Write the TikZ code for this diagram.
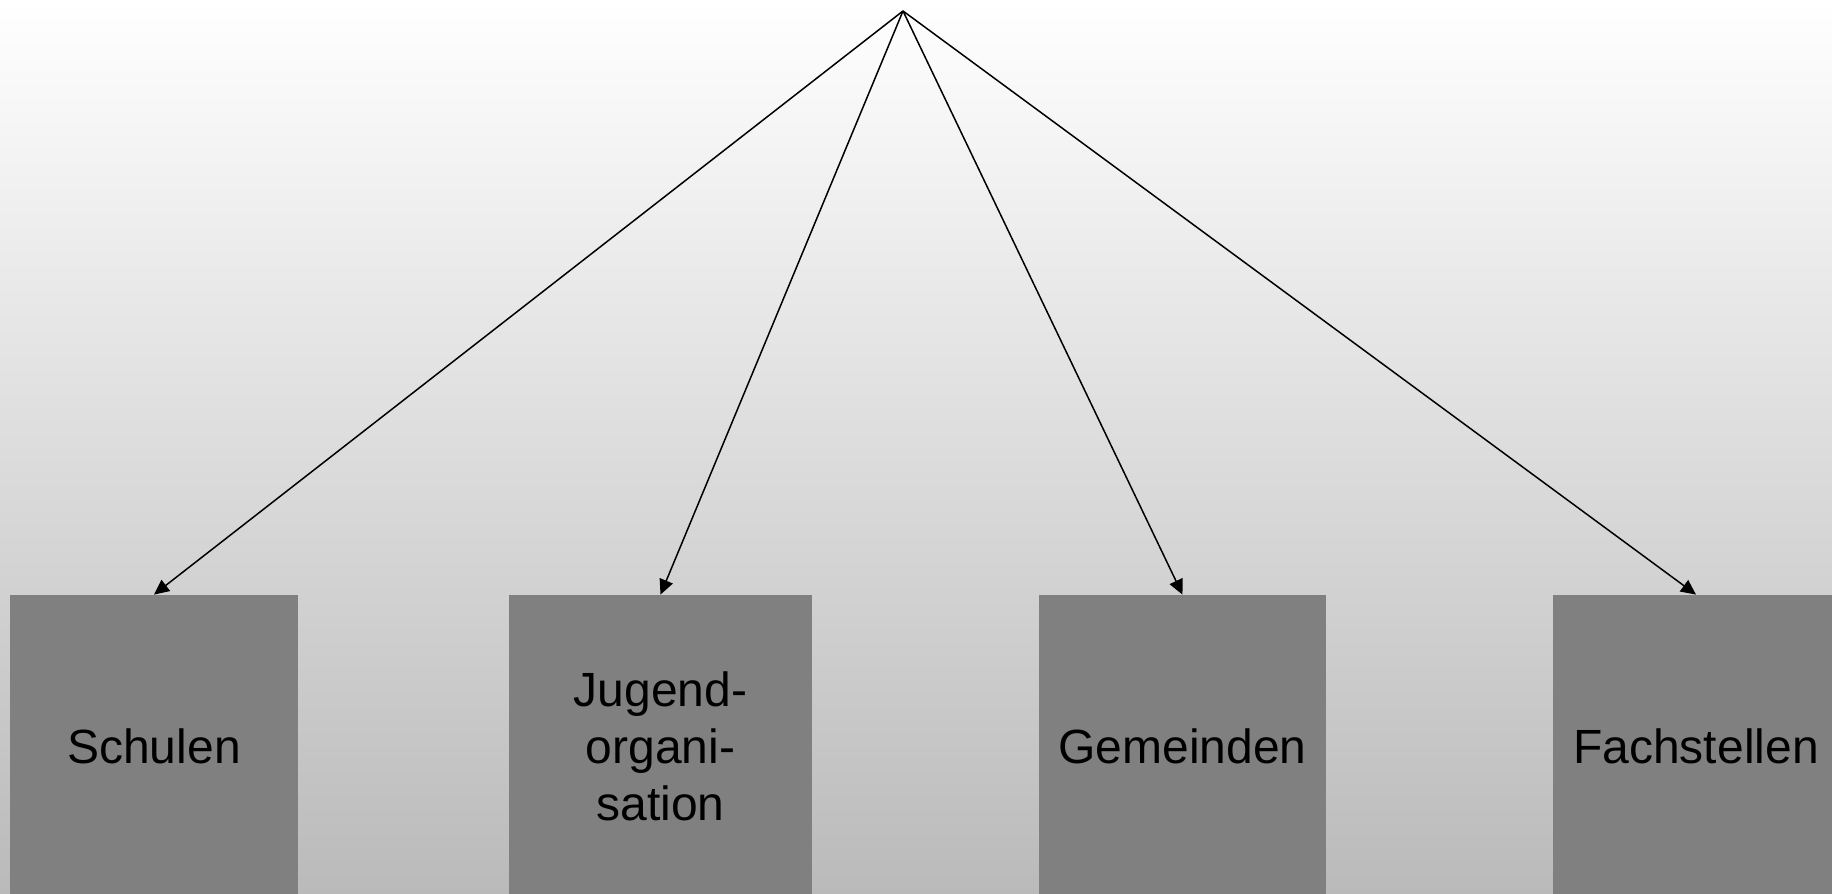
\documentclass[tikz,border=0pt]{standalone}
\usepackage{fontspec}
\setmainfont{Liberation Sans}
\usetikzlibrary{arrows.meta}

\begin{document}
\begin{tikzpicture}[x=0.5pt, y=0.5pt,
        kasten/.style={fill=boxgray, minimum height=151pt, inner sep=0pt, align=center,
            font=\fontsize{24pt}{28.5pt}\selectfont},
        pfeil/.style={-{Triangle[length=7.5pt,width=7pt]}, line width=0.75pt}]
            % Farben
            \definecolor{boxgray}{RGB}{128,128,128}
            \definecolor{bgbottom}{RGB}{186,186,186}

            % Hintergrund
            \clip (0,0) rectangle (1832,894);
            \shade[top color=white, bottom color=bgbottom] (0,0) rectangle (1832,894);

            % Kasten
            \coordinate (spitze) at (903,883);
            \node[kasten, minimum width=144pt] (schulen) at (154,148) {Schulen};
            \node[kasten, minimum width=151.5pt] (jugend) at (660.5,148) {Jugend-\\organi-\\sation};
            \node[kasten, minimum width=143.5pt] (gemeinden) at (1182.5,148) {Gemeinden};
            \node[kasten, minimum width=143pt] (fachstellen) at (1696,148) {Fachstellen};

            % Pfeile
            \draw[pfeil] (spitze) -- (schulen.north);
            \draw[pfeil] (spitze) -- (jugend.north);
            \draw[pfeil] (spitze) -- (gemeinden.north);
            \draw[pfeil] (spitze) -- (fachstellen.north);

        \end{tikzpicture}
\end{document}
